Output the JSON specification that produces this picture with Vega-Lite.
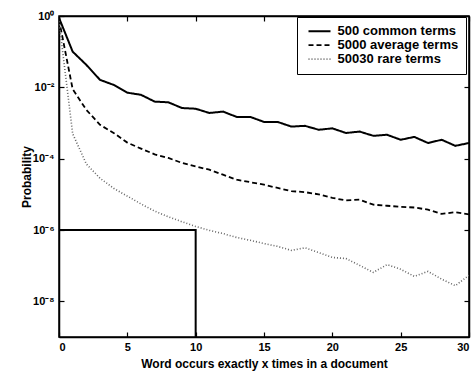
{
  "$schema": "https://vega.github.io/schema/vega-lite/v6.json",
  "width": 410,
  "height": 321,
  "autosize": {"type": "none"},
  "padding": {"left": 59, "top": 16, "right": 7, "bottom": 34},
  "background": "white",
  "config": {
    "font": "Liberation Sans",
    "view": {"stroke": "black", "strokeWidth": 1.5},
    "axis": {
      "domainColor": "black", "domainWidth": 1.5,
      "tickColor": "black", "tickWidth": 1.2, "tickSize": -5,
      "labelColor": "black", "labelFont": "Liberation Sans", "labelFontWeight": "bold", "labelFontSize": 11,
      "titleColor": "black", "titleFont": "Liberation Sans", "titleFontWeight": "bold", "titleFontSize": 12,
      "grid": false
    },
    "legend": {
      "strokeColor": "black", "fillColor": "white", "padding": 7.5,
      "symbolType": "stroke", "symbolSize": 484, "symbolOffset": 3, "rowPadding": 0, "clipHeight": 13.3,
      "labelFont": "Liberation Sans", "labelFontWeight": "bold", "labelFontSize": 13, "labelColor": "black", "labelOffset": 6
    }
  },
  "datasets": {
    "curves": [
      {"x":0,"p":0.89,"s":"500 common terms"},
      {"x":1,"p":0.1,"s":"500 common terms"},
      {"x":2,"p":0.0427,"s":"500 common terms"},
      {"x":3,"p":0.0162,"s":"500 common terms"},
      {"x":4,"p":0.0117,"s":"500 common terms"},
      {"x":5,"p":0.00708,"s":"500 common terms"},
      {"x":6,"p":0.00617,"s":"500 common terms"},
      {"x":7,"p":0.00398,"s":"500 common terms"},
      {"x":8,"p":0.0038,"s":"500 common terms"},
      {"x":9,"p":0.00263,"s":"500 common terms"},
      {"x":10,"p":0.00251,"s":"500 common terms"},
      {"x":11,"p":0.00191,"s":"500 common terms"},
      {"x":12,"p":0.00209,"s":"500 common terms"},
      {"x":13,"p":0.00148,"s":"500 common terms"},
      {"x":14,"p":0.00148,"s":"500 common terms"},
      {"x":15,"p":0.00107,"s":"500 common terms"},
      {"x":16,"p":0.00107,"s":"500 common terms"},
      {"x":17,"p":0.000794,"s":"500 common terms"},
      {"x":18,"p":0.000832,"s":"500 common terms"},
      {"x":19,"p":0.000646,"s":"500 common terms"},
      {"x":20,"p":0.000708,"s":"500 common terms"},
      {"x":21,"p":0.000525,"s":"500 common terms"},
      {"x":22,"p":0.000575,"s":"500 common terms"},
      {"x":23,"p":0.000437,"s":"500 common terms"},
      {"x":24,"p":0.000468,"s":"500 common terms"},
      {"x":25,"p":0.000339,"s":"500 common terms"},
      {"x":26,"p":0.000407,"s":"500 common terms"},
      {"x":27,"p":0.000275,"s":"500 common terms"},
      {"x":28,"p":0.000339,"s":"500 common terms"},
      {"x":29,"p":0.000229,"s":"500 common terms"},
      {"x":30,"p":0.000275,"s":"500 common terms"},
      {"x":0,"p":0.794,"s":"5000 average terms"},
      {"x":1,"p":0.0089,"s":"5000 average terms"},
      {"x":2,"p":0.00234,"s":"5000 average terms"},
      {"x":3,"p":0.00089,"s":"5000 average terms"},
      {"x":4,"p":0.000525,"s":"5000 average terms"},
      {"x":5,"p":0.000282,"s":"5000 average terms"},
      {"x":6,"p":0.000191,"s":"5000 average terms"},
      {"x":7,"p":0.000132,"s":"5000 average terms"},
      {"x":8,"p":0.000105,"s":"5000 average terms"},
      {"x":9,"p":7.59e-5,"s":"5000 average terms"},
      {"x":10,"p":6.03e-5,"s":"5000 average terms"},
      {"x":11,"p":4.90e-5,"s":"5000 average terms"},
      {"x":12,"p":3.55e-5,"s":"5000 average terms"},
      {"x":13,"p":2.57e-5,"s":"5000 average terms"},
      {"x":14,"p":2.19e-5,"s":"5000 average terms"},
      {"x":15,"p":1.86e-5,"s":"5000 average terms"},
      {"x":16,"p":1.51e-5,"s":"5000 average terms"},
      {"x":17,"p":1.23e-5,"s":"5000 average terms"},
      {"x":18,"p":1.15e-5,"s":"5000 average terms"},
      {"x":19,"p":1.0e-5,"s":"5000 average terms"},
      {"x":20,"p":7.94e-6,"s":"5000 average terms"},
      {"x":21,"p":6.76e-6,"s":"5000 average terms"},
      {"x":22,"p":7.08e-6,"s":"5000 average terms"},
      {"x":23,"p":5.13e-6,"s":"5000 average terms"},
      {"x":24,"p":4.79e-6,"s":"5000 average terms"},
      {"x":25,"p":4.47e-6,"s":"5000 average terms"},
      {"x":26,"p":4.27e-6,"s":"5000 average terms"},
      {"x":27,"p":3.72e-6,"s":"5000 average terms"},
      {"x":28,"p":2.82e-6,"s":"5000 average terms"},
      {"x":29,"p":3.16e-6,"s":"5000 average terms"},
      {"x":30,"p":2.75e-6,"s":"5000 average terms"},
      {"x":0,"p":0.708,"s":"50030 rare terms"},
      {"x":1,"p":5.01e-4,"s":"50030 rare terms"},
      {"x":2,"p":7.08e-5,"s":"50030 rare terms"},
      {"x":3,"p":2.82e-5,"s":"50030 rare terms"},
      {"x":4,"p":1.48e-5,"s":"50030 rare terms"},
      {"x":5,"p":8.91e-6,"s":"50030 rare terms"},
      {"x":6,"p":5.37e-6,"s":"50030 rare terms"},
      {"x":7,"p":3.39e-6,"s":"50030 rare terms"},
      {"x":8,"p":2.34e-6,"s":"50030 rare terms"},
      {"x":9,"p":1.70e-6,"s":"50030 rare terms"},
      {"x":10,"p":1.26e-6,"s":"50030 rare terms"},
      {"x":11,"p":9.77e-7,"s":"50030 rare terms"},
      {"x":12,"p":7.94e-7,"s":"50030 rare terms"},
      {"x":13,"p":6.17e-7,"s":"50030 rare terms"},
      {"x":14,"p":5.13e-7,"s":"50030 rare terms"},
      {"x":15,"p":4.17e-7,"s":"50030 rare terms"},
      {"x":16,"p":3.47e-7,"s":"50030 rare terms"},
      {"x":17,"p":2.69e-7,"s":"50030 rare terms"},
      {"x":18,"p":3.16e-7,"s":"50030 rare terms"},
      {"x":19,"p":2.34e-7,"s":"50030 rare terms"},
      {"x":20,"p":1.70e-7,"s":"50030 rare terms"},
      {"x":21,"p":1.58e-7,"s":"50030 rare terms"},
      {"x":22,"p":1.02e-7,"s":"50030 rare terms"},
      {"x":23,"p":6.46e-8,"s":"50030 rare terms"},
      {"x":24,"p":1.07e-7,"s":"50030 rare terms"},
      {"x":25,"p":7.94e-8,"s":"50030 rare terms"},
      {"x":26,"p":5.01e-8,"s":"50030 rare terms"},
      {"x":27,"p":6.92e-8,"s":"50030 rare terms"},
      {"x":28,"p":4.17e-8,"s":"50030 rare terms"},
      {"x":29,"p":2.75e-8,"s":"50030 rare terms"},
      {"x":30,"p":5.37e-8,"s":"50030 rare terms"}
    ],
    "box": [
      {"x":0,"p":1e-6,"o":1},
      {"x":10,"p":1e-6,"o":2},
      {"x":10,"p":1e-9,"o":3}
    ]
  },
  "layer": [
    {
      "data": {"name": "curves"},
      "mark": {"type": "line", "clip": true},
      "encoding": {
        "x": {
          "field": "x", "type": "quantitative",
          "scale": {"domain": [0, 30], "nice": false, "zero": false},
          "axis": {"orient": "bottom", "values": [0,5,10,15,20,25,30], "title": "Word occurs exactly x times in a document", "labelPadding": 9, "titlePadding": 6}
        },
        "y": {
          "field": "p", "type": "quantitative",
          "scale": {"type": "log", "domain": [1e-9, 1], "nice": false},
          "axis": {"orient": "left", "values": [1, 0.01, 0.0001, 1e-6, 1e-8], "title": "Probability", "labelPadding": 10, "titlePadding": -1,
            "labelExpr": "datum.value >= 0.5 ? '10⁰' : datum.value >= 0.005 ? '10⁻²' : datum.value >= 5e-5 ? '10⁻⁴' : datum.value >= 5e-7 ? '10⁻⁶' : '10⁻⁸'"}
        },
        "strokeDash": {
          "field": "s", "type": "nominal",
          "scale": {"domain": ["500 common terms","5000 average terms","50030 rare terms"], "range": [[1,0],[5,3],[1,2]]},
          "legend": {"title": null, "orient": "none", "legendX": 238, "legendY": 1}
        },
        "color": {
          "field": "s", "type": "nominal",
          "scale": {"domain": ["500 common terms","5000 average terms","50030 rare terms"], "range": ["#000000","#000000","#666666"]},
          "legend": {"title": null, "orient": "none", "legendX": 238, "legendY": 1}
        },
        "strokeWidth": {
          "field": "s", "type": "nominal",
          "scale": {"domain": ["500 common terms","5000 average terms","50030 rare terms"], "range": [2, 1.6, 1.1]},
          "legend": {"title": null, "orient": "none", "legendX": 238, "legendY": 1}
        }
      }
    },
    {
      "data": {"name": "box"},
      "mark": {"type": "line", "color": "black", "strokeWidth": 2},
      "encoding": {
        "x": {"field": "x", "type": "quantitative", "axis": {"orient": "top", "values": [0,5,10,15,20,25,30], "labels": false, "title": null}},
        "y": {"field": "p", "type": "quantitative", "axis": {"orient": "right", "values": [1, 0.01, 0.0001, 1e-6, 1e-8], "labels": false, "title": null}},
        "order": {"field": "o", "type": "quantitative"}
      }
    }
  ],
  "resolve": {"axis": {"x": "independent", "y": "independent"}}
}
